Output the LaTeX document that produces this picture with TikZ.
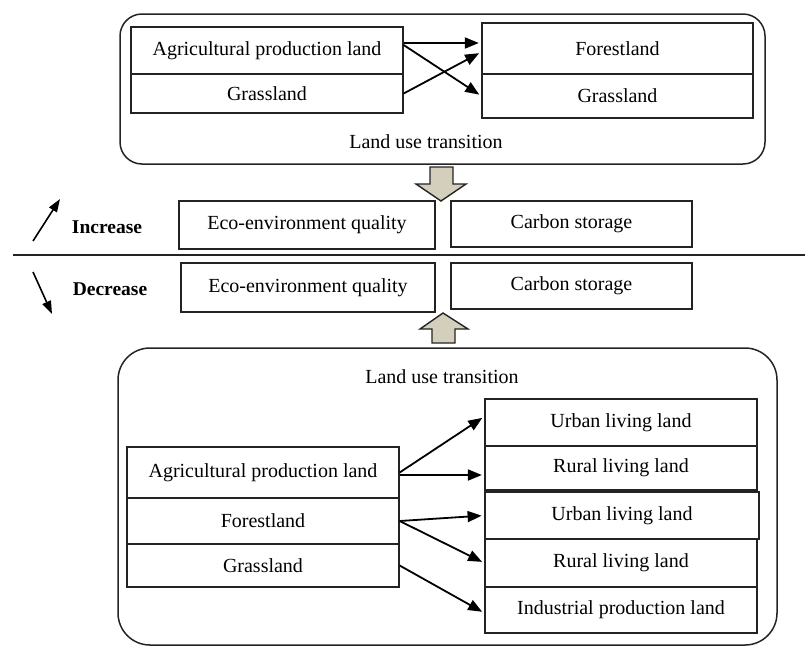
\documentclass[tikz,border=0pt]{standalone}
\usepackage{fontspec}
\setmainfont{Liberation Serif}
\usetikzlibrary{arrows.meta}
\definecolor{ln}{RGB}{35,35,35}
\definecolor{blk}{RGB}{212,207,188}
\begin{document}
\begin{tikzpicture}[x=1pt,y=-1pt,
  bx/.style={draw=ln, line width=1.3pt, inner sep=0pt, font=\fontsize{20}{23}\selectfont, text=black, anchor=center},
  ar/.style={draw=black, line width=1.8pt, -{Triangle[length=14pt,width=11pt]}, shorten >=2.5pt},
  smallar/.style={draw=black, line width=1.6pt, -{Triangle[length=13pt,width=9pt]}},
  lbl/.style={font=\fontsize{20}{23}\selectfont, inner sep=0pt},
  bold/.style={font=\bfseries\fontsize{19.5}{23}\selectfont, inner sep=0pt},
  frame/.style={draw=ln, line width=1.5pt, inner sep=0pt},
  blockarrow/.style={draw=ln, line width=1.4pt, fill=blk, line join=miter}
]
\useasboundingbox (0,0) rectangle (805,646);

% ---------- top frame ----------
\node[frame, rounded corners=22pt, minimum width=645pt, minimum height=150pt] (topframe) at (442.5,89) {};
\node[bx, minimum width=272pt, minimum height=47pt] (agriT) at (267,50.5) {Agricultural production land};
\node[bx, minimum width=272pt, minimum height=39pt] (grassT) at (267,93.5) {Grassland};
\node[bx, minimum width=271pt, minimum height=51pt] (forestT) at (617.5,48.5) {Forestland};
\node[bx, minimum width=271pt, minimum height=44pt] (grassTR) at (617.5,96) {Grassland};
\node[lbl] (lutT) at (426,142) {Land use transition};

\coordinate (t1) at ([yshift=7.5pt]agriT.east);
\draw[ar] (t1) -- (t1 -| forestT.west);
\draw[ar] ([yshift=5.5pt]agriT.east) -- (grassTR.west);
\draw[ar] (grassT.east) -- ([yshift=-3.5pt]forestT.west);

% ---------- block arrows ----------
\draw[blockarrow] (430,167) -- (453,167) -- (453,184) -- (466,184) -- (441,201) -- (416,184) -- (430,184) -- cycle;
\draw[blockarrow] (432,343) -- (455,343) -- (455,329) -- (468,329) -- (443,313) -- (420,329) -- (432,329) -- cycle;

% ---------- middle ----------
\node[bx, minimum width=256pt, minimum height=48pt] (ecoI) at (307,225) {\raisebox{-3pt}{Eco-environment quality}};
\node[bx, minimum width=241pt, minimum height=46pt] (carbI) at (571.5,224) {Carbon storage};
\node[bx, minimum width=254pt, minimum height=49pt] (ecoD) at (308,287.5) {\raisebox{-2pt}{Eco-environment quality}};
\node[bx, minimum width=241pt, minimum height=46pt] (carbD) at (571.5,286) {Carbon storage};

\node[bold] (inc) at (107,227) {Increase};
\node[bold] (dec) at (110,289) {Decrease};
\coordinate (iu0) at (33,241);
\coordinate (iu1) at (60,199);
\coordinate (id0) at (33,272);
\coordinate (id1) at (52,314);
\draw[smallar] (iu0) -- (iu1);
\draw[smallar] (id0) -- (id1);

\coordinate (dl) at (13,255);
\coordinate (dr) at (805,255);
\draw[draw=ln, line width=1.7pt] (dl) -- (dr);

% ---------- bottom frame ----------
\node[frame, rounded corners=32pt, minimum width=659pt, minimum height=297pt] (botframe) at (447.5,496.5) {};
\node[lbl] (lutB) at (442,377) {Land use transition};

\node[bx, minimum width=272pt, minimum height=51pt] (agriB) at (263,472.5) {Agricultural production land};
\node[bx, minimum width=272pt, minimum height=46pt] (forestB) at (263,521) {Forestland};
\node[bx, minimum width=272pt, minimum height=43pt] (grassB) at (263,565.5) {Grassland};

\node[bx, minimum width=272pt, minimum height=47pt] (urban1) at (621,422.5) {Urban living land};
\node[bx, minimum width=272pt, minimum height=44pt] (rural1) at (621,468) {Rural living land};
\node[bx, line width=1.8pt, minimum width=274pt, minimum height=47pt] (urban2) at (622,515.5) {Urban living land};
\node[bx, minimum width=272pt, minimum height=48pt] (rural2) at (621,563) {Rural living land};
\node[bx, minimum width=272pt, minimum height=46pt] (indus) at (621,610) {Industrial production land};

\draw[ar] (agriB.east) -- ([yshift=6pt]urban1.west);
\coordinate (b2) at ([yshift=-2.5pt]agriB.east);
\draw[ar] (b2) -- (b2 -| rural1.west);
\draw[ar] (forestB.east) -- (urban2.west);
\draw[ar] (forestB.east) -- (rural2.west);
\draw[ar] (grassB.east) -- ([yshift=-3pt]indus.west);
\end{tikzpicture}
\end{document}
